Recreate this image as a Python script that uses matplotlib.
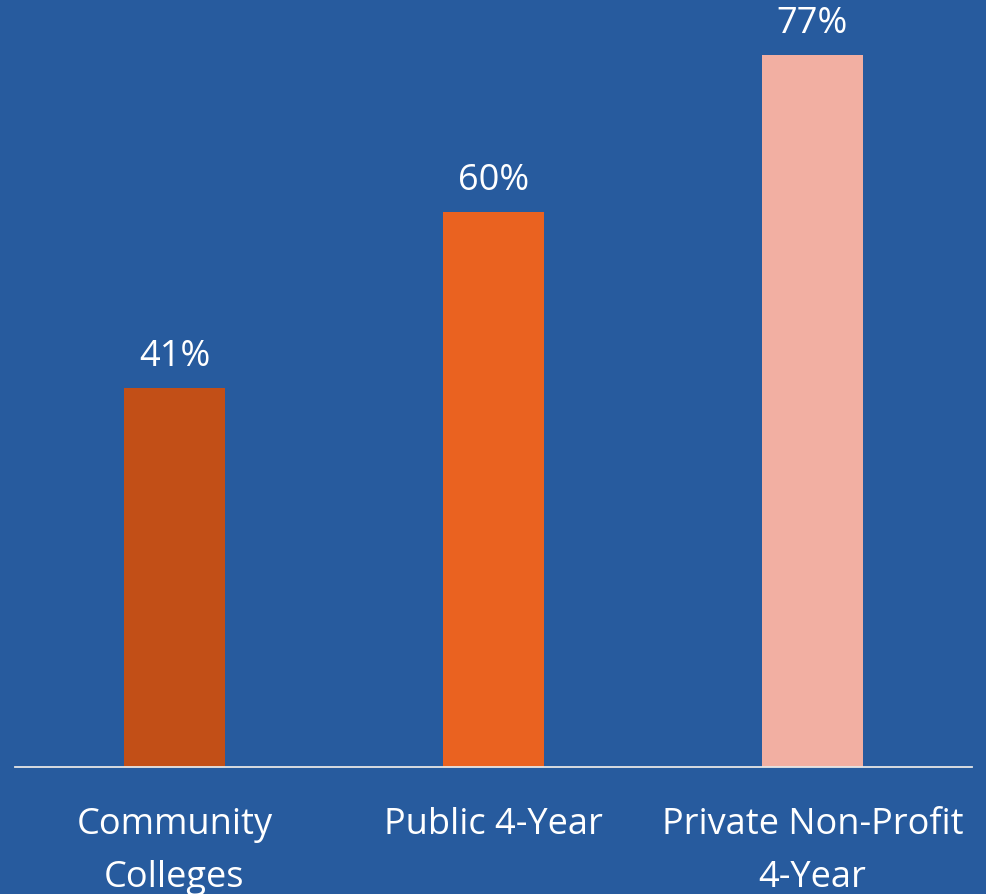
import matplotlib.pyplot as plt

# data
categories = ['Community\nColleges', 'Public 4-Year', 'Private Non-Profit\n4-Year']
values = [41, 60, 77]
bar_colors = ['#C24F17', '#EA6220', '#F2AFA2']
bg = '#275B9E'

plt.rcParams['font.family'] = ['Open Sans', 'DejaVu Sans']

fig = plt.figure(figsize=(9.86, 8.94), dpi=100, facecolor=bg)
ax = fig.add_axes([15 / 986, 127 / 894, 957 / 986, 767 / 894])
ax.set_facecolor(bg)

x = range(len(categories))
bars = ax.bar(x, values, width=0.314, color=bar_colors)

# value labels above the bars
for b, v in zip(bars, values):
    ax.annotate(f'{v}%', (b.get_x() + b.get_width() / 2, v),
                xytext=(0, 9), textcoords='offset points',
                ha='center', va='bottom', color='white', fontsize=26)

ax.set_xlim(-0.5, 2.5)
ax.set_ylim(0, 82.9)
ax.set_xticks(list(x))
ax.set_xticklabels(categories, color='white', fontsize=26, linespacing=1.62)
ax.tick_params(axis='x', length=0, pad=29)
ax.set_yticks([])

for s in ['top', 'left', 'right']:
    ax.spines[s].set_visible(False)
ax.spines['bottom'].set_color('#E6E6E6')
ax.spines['bottom'].set_linewidth(1.3)

fig.savefig('out.png', dpi=100, facecolor=bg)
